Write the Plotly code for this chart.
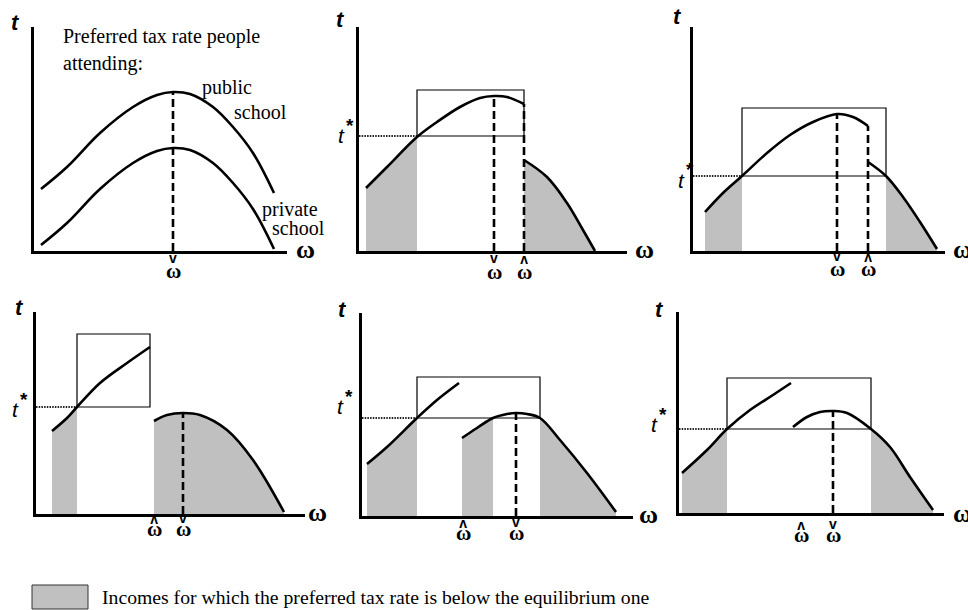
import plotly.graph_objects as go

W, H = 968, 610

# ---------------- data (omega, t units per panel) -------------
# Panel 1
p1_pub_w = [7, 33, 66, 99, 123, 139, 156, 179, 199, 219, 240]
p1_pub_t = [62, 84, 118, 144, 156, 159, 157, 144, 124, 98, 58]
p1_pri_w = [7, 33, 66, 99, 123, 139, 156, 179, 199, 219, 240]
p1_pri_t = [6, 28, 62, 88, 100, 103, 101, 88, 68, 42, 2]
p1_wcheck = 139

# Panel 2
p2_pub_w = [7, 28, 58, 78, 101, 121, 135, 148, 165]
p2_pub_t = [63, 84, 114, 129, 144, 153, 155, 154, 147]
p2_pri_w = [165, 188, 208, 224, 236]
p2_pri_t = [91, 74, 48, 21, 0]
p2_box = [58, 165, 115, 161]          # left, right, t*, top
p2_wcheck, p2_what = 135, 165

# Panel 3
p3_pub_w = [12, 30, 49, 74, 97, 120, 144, 160, 175]
p3_pub_t = [39, 58, 75, 98, 116, 129, 137, 134, 125]
p3_pri_w = [175, 193, 210, 227, 244]
p3_pri_t = [89, 75, 54, 29, 2]
p3_box = [49, 193, 75, 143]
p3_wcheck, p3_what = 144, 175

# Panel 4
p4_pub_w = [16, 31, 41, 64, 91, 114]
p4_pub_t = [83, 96, 107, 131, 151, 167]
p4_pri_w = [118, 131, 147, 164, 191, 217, 248]
p4_pri_t = [93, 99, 101, 99, 84, 54, 2]
p4_box = [41, 114, 107, 180]
p4_wcheck, p4_what = 147, 118

# Panel 5
p5_pub_w = [5, 25, 55, 75, 97]
p5_pub_t = [52, 69, 98, 116, 133]
p5_pri_w = [100, 115, 131, 145, 154, 165, 178, 198, 225, 254]
p5_pri_t = [78, 88, 98, 102, 103, 102, 98, 76, 43, 4]
p5_box = [55, 178, 98, 139]
p5_wcheck, p5_what = 154, 101

# Panel 6
p6_pub_w = [3, 28, 48, 71, 94, 112]
p6_pub_t = [40, 63, 84, 103, 118, 130]
p6_pri_w = [114, 128, 141, 154, 168, 192, 211, 231, 254]
p6_pri_t = [86, 96, 101, 102, 100, 84, 66, 36, 3]
p6_box = [48, 192, 84, 135]
p6_wcheck, p6_what = 154, 122

# shaded income intervals: (curve, lo, hi)
p2_shade = [("pub", 0, 58), ("pri", 165, 999)]
p3_shade = [("pub", 0, 49), ("pri", 193, 999)]
p4_shade = [("pub", 0, 41), ("pri", 118, 999)]
p5_shade = [("pub", 0, 55), ("pri", 100, 131), ("pri", 178, 999)]
p6_shade = [("pub", 0, 48), ("pri", 192, 999)]

legend_text = "Incomes for which the preferred tax rate is below the equilibrium one"

# ---------------- layout geometry (pixels) ----------------
# origin x, origin y, x-axis end, y-axis top
GEOM = [
    (34, 251, 287, 27),
    (359, 251, 627, 27),
    (693, 251, 945, 27),
    (36, 514, 305, 312),
    (362, 516, 633, 313),
    (679, 513, 944, 312),
]

GRAY = "#c0c0c0"
SERIF = "Liberation Serif"
SANS = "Liberation Sans"


def pxx(x):
    return x / W


def pxy(y):
    return 1 - y / H


fig = go.Figure()

panels = [
    dict(pub=(p1_pub_w, p1_pub_t), pri=(p1_pri_w, p1_pri_t), box=None,
         shade=[], dashed=[("pub", p1_wcheck)]),
    dict(pub=(p2_pub_w, p2_pub_t), pri=(p2_pri_w, p2_pri_t), box=p2_box,
         shade=p2_shade, dashed=[("pub", p2_wcheck), ("pub", p2_what)]),
    dict(pub=(p3_pub_w, p3_pub_t), pri=(p3_pri_w, p3_pri_t), box=p3_box,
         shade=p3_shade, dashed=[("pub", p3_wcheck), ("pub", p3_what)]),
    dict(pub=(p4_pub_w, p4_pub_t), pri=(p4_pri_w, p4_pri_t), box=p4_box,
         shade=p4_shade, dashed=[("pri", p4_wcheck)]),
    dict(pub=(p5_pub_w, p5_pub_t), pri=(p5_pri_w, p5_pri_t), box=p5_box,
         shade=p5_shade, dashed=[("pri", p5_wcheck)]),
    dict(pub=(p6_pub_w, p6_pub_t), pri=(p6_pri_w, p6_pri_t), box=p6_box,
         shade=p6_shade, dashed=[("pri", p6_wcheck)]),
]

layout_axes = {}
for i, (p, g) in enumerate(zip(panels, GEOM), start=1):
    ox, oy, xe, yt = g
    xa, ya = f"x{i}", f"y{i}"
    xkey = "xaxis" if i == 1 else f"xaxis{i}"
    ykey = "yaxis" if i == 1 else f"yaxis{i}"
    common = dict(showline=True, linewidth=2.6, linecolor="black", showgrid=False,
                  zeroline=False, showticklabels=False, ticks="", fixedrange=True)
    layout_axes[xkey] = dict(domain=[pxx(ox), pxx(xe)], range=[0, xe - ox],
                             anchor=ya, **common)
    layout_axes[ykey] = dict(domain=[pxy(oy), pxy(yt)], range=[0, oy - yt],
                             anchor=xa, **common)

    # shading
    for which, lo, hi in p["shade"]:
        ws, ts = p[which]
        sw = [w for w in ws if lo <= w <= hi]
        st = [t for w, t in zip(ws, ts) if lo <= w <= hi]
        fig.add_trace(go.Scatter(x=sw, y=st, mode="lines", fill="tozeroy",
                                 fillcolor=GRAY, line=dict(width=0, shape="spline"),
                                 xaxis=xa, yaxis=ya, hoverinfo="skip", showlegend=False))
    # box and t* dotted line
    if p["box"] is not None:
        bl, br, ts_, bt = p["box"]
        fig.add_trace(go.Scatter(x=[bl, br, br, bl, bl], y=[ts_, ts_, bt, bt, ts_],
                                 mode="lines", line=dict(color="black", width=1.2),
                                 xaxis=xa, yaxis=ya, hoverinfo="skip", showlegend=False))
        fig.add_trace(go.Scatter(x=[0, bl], y=[ts_, ts_], mode="lines",
                                 line=dict(color="#222", width=2, dash="1.5px,1.2px"),
                                 xaxis=xa, yaxis=ya, hoverinfo="skip", showlegend=False))
    # dashed verticals
    for which, wv in p["dashed"]:
        ws, ts = p[which]
        tv = ts[ws.index(wv)]
        fig.add_trace(go.Scatter(x=[wv, wv], y=[0, tv], mode="lines",
                                 line=dict(color="black", width=2.6, dash="8px,4px"),
                                 xaxis=xa, yaxis=ya, hoverinfo="skip", showlegend=False))
    # curves
    for which in ("pub", "pri"):
        ws, ts = p[which]
        fig.add_trace(go.Scatter(x=ws, y=ts, mode="lines",
                                 line=dict(color="black", width=2.6, shape="spline"),
                                 xaxis=xa, yaxis=ya, hoverinfo="skip", showlegend=False))

annotations = []


def txt(text, x, y, size, family=SERIF, xanchor="center", yanchor="middle",
        color="black", angle=0):
    annotations.append(dict(text=text, x=pxx(x), y=pxy(y), xref="paper", yref="paper",
                            showarrow=False, xanchor=xanchor, yanchor=yanchor,
                            textangle=angle,
                            font=dict(family=family, size=size, color=color)))


# axis labels "t"
for (x, y) in [(15, 23), (340, 19), (677, 17), (19, 307), (342, 309), (659, 309)]:
    txt("<b><i>t</i></b>", x, y, 22, SANS)
# axis labels omega
for (x, y) in [(305, 249), (644, 249), (962, 249), (317, 512), (648, 514), (962, 513)]:
    txt("<b>ω</b>", x, y, 26, SERIF)
# t* labels: position of the "t" glyph centre, asterisk up-right
for (x, y) in [(341, 135), (681, 180), (15, 409), (340, 406), (654, 424)]:
    txt("<i>t</i>", x, y, 21, SANS)
    txt("<b>*</b>", x + 9, y - 10, 19, SANS)

# omega tick labels: (panel index, omega value, accent kind, omega y px, accent y px)
ticks = [
    (0, p1_wcheck, "check", 271, 260),
    (1, p2_wcheck, "check", 272, 260),
    (1, p2_what, "hat", 272, 260),
    (2, p3_wcheck, "check", 269, 258),
    (2, p3_what, "hat", 269, 258),
    (3, p4_what, "hat", 529, 520),
    (3, p4_wcheck, "check", 529, 520),
    (4, p5_what, "hat", 533, 524),
    (4, p5_wcheck, "check", 533, 524),
    (5, p6_what, "hat", 535, 526),
    (5, p6_wcheck, "check", 535, 526),
]
for k, wv, kind, yo, ya_ in ticks:
    ox = GEOM[k][0]
    txt("<b>ω</b>", ox + wv, yo, 21, SERIF)
    if kind == "check":
        txt("<b>v</b>", ox + wv, ya_ - 2, 14, SANS)
    else:
        txt("<b>v</b>", ox + wv, ya_ + 1, 14, SANS, angle=180)

# panel 1 text
txt("Preferred tax rate people", 61, 36, 20, xanchor="left")
txt("attending:", 61, 63, 20, xanchor="left")
txt("public", 200, 88, 20, xanchor="left")
txt("school", 232, 112, 20, xanchor="left")
txt("private", 260, 210, 20, xanchor="left")
txt("school", 270, 228, 20, xanchor="left")

# legend
txt(legend_text, 100, 597, 19.7, xanchor="left")
shapes = [dict(type="rect", xref="paper", yref="paper", x0=pxx(32), x1=pxx(88),
               y0=pxy(609), y1=pxy(585), fillcolor=GRAY,
               line=dict(color="#333", width=1))]

fig.update_layout(width=W, height=H, margin=dict(l=0, r=0, t=0, b=0),
                  paper_bgcolor="white", plot_bgcolor="rgba(0,0,0,0)",
                  showlegend=False, annotations=annotations, shapes=shapes,
                  **layout_axes)

fig.write_html("out.html", config={"displayModeBar": False},
               post_script="document.body.style.margin='0px';document.body.style.padding='0px';"
                           "document.body.style.overflow='hidden';")
